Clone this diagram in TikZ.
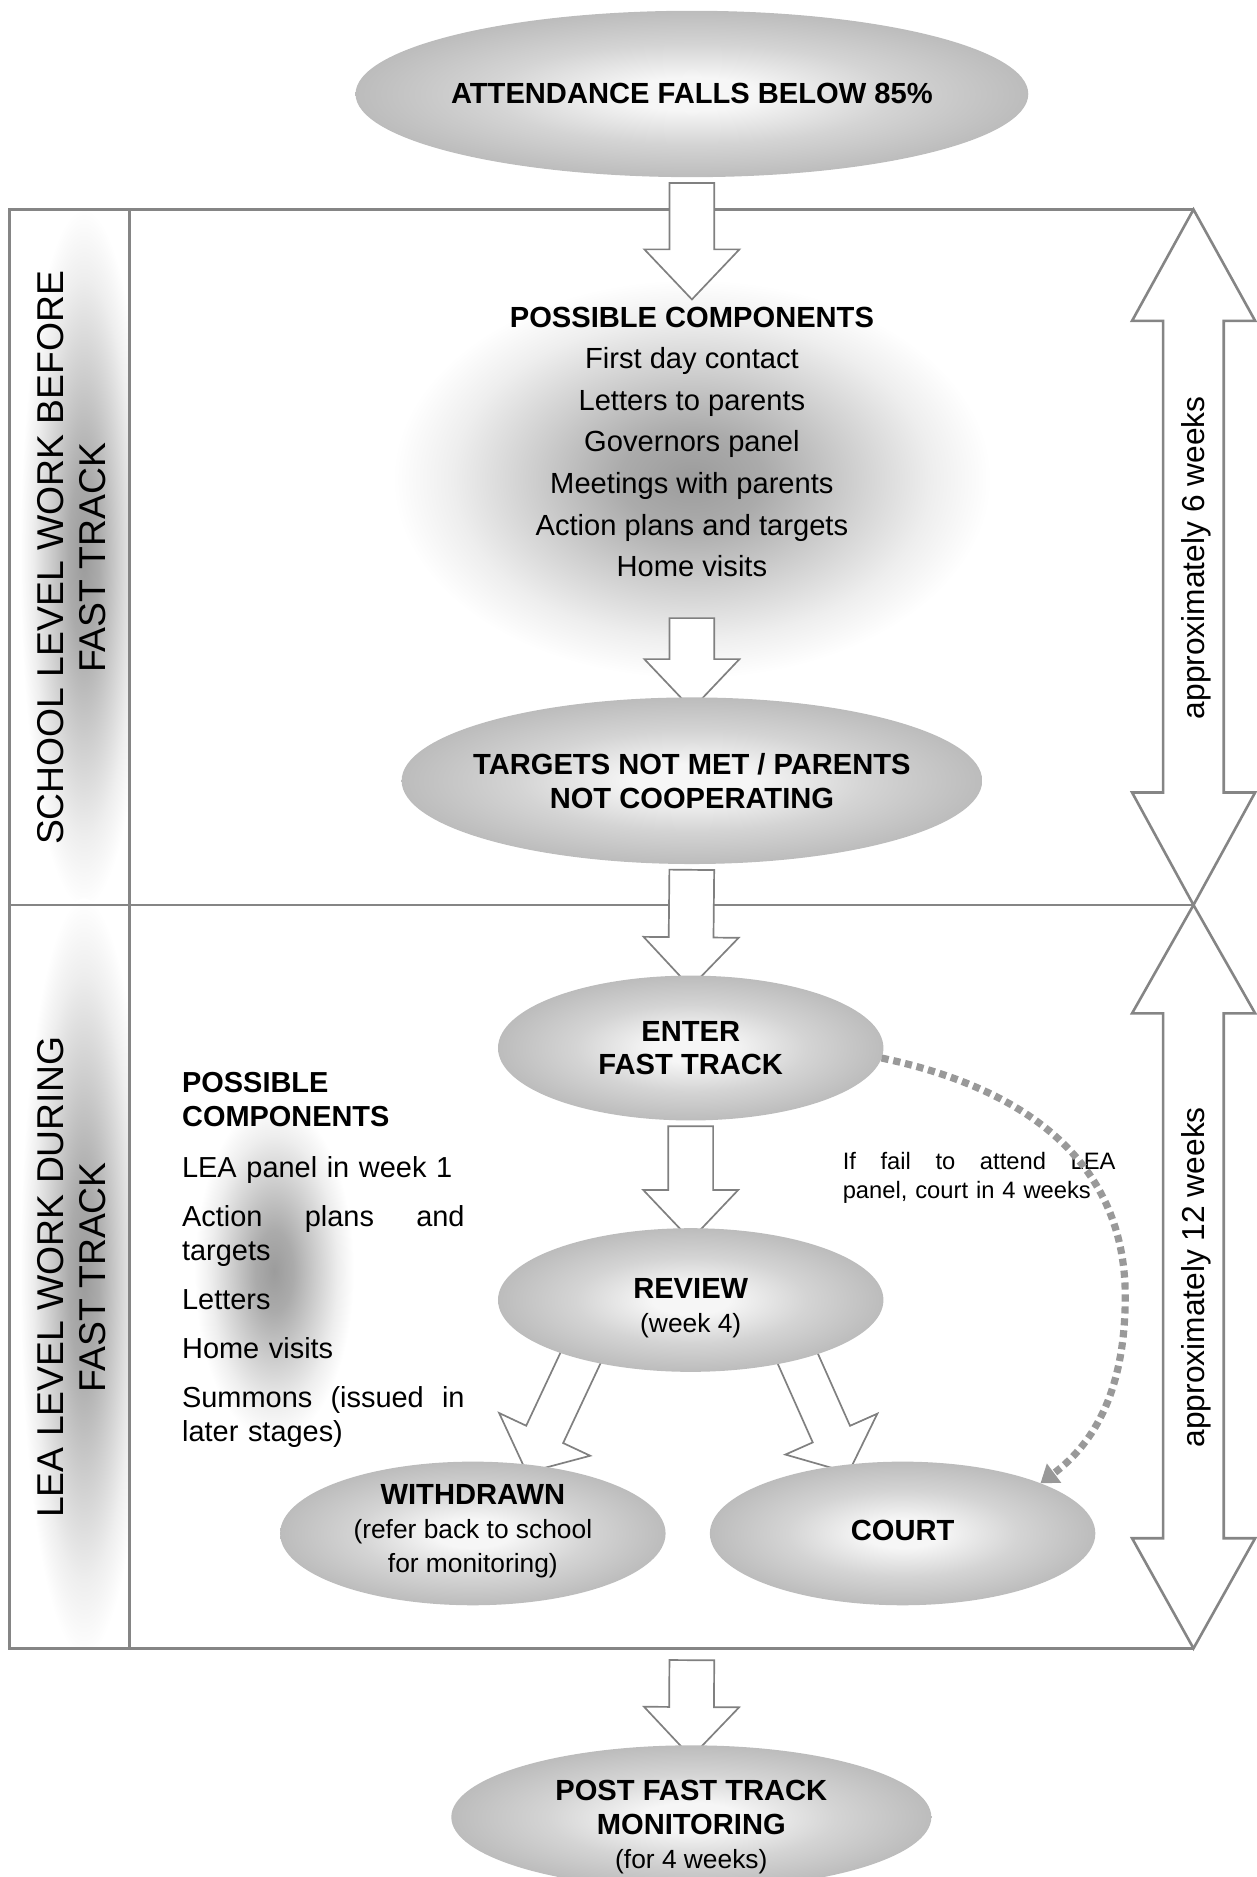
\documentclass[tikz,border=0pt]{standalone}
\usepackage{fontspec}
\setmainfont{Liberation Sans}
\usetikzlibrary{shapes.geometric,shapes.arrows,calc,arrows.meta}
\definecolor{linegray}{HTML}{858585}
\definecolor{arrgray}{HTML}{808080}
\definecolor{dotgray}{HTML}{999999}
\definecolor{ellA}{HTML}{F6F6F6}
\definecolor{ellB}{HTML}{D4D4D4}
\definecolor{ellC}{HTML}{BCBCBC}
\definecolor{blA}{HTML}{9C9C9C}
\definecolor{blB}{HTML}{ABABAB}
\definecolor{blC}{HTML}{CDCDCD}
\definecolor{blD}{HTML}{EEEEEE}
% TikZ maps the central 50bp square of a shading onto the path: the edge is at 25bp
\pgfdeclareradialshading{ellshade}{\pgfpoint{0bp}{0bp}}{color(0bp)=(ellA); color(5bp)=(ellA); color(15bp)=(ellB); color(25bp)=(ellC); color(50bp)=(ellC)}
\pgfdeclareradialshading{blobshade}{\pgfpoint{0bp}{0bp}}{color(0bp)=(blA); color(6bp)=(blB); color(13bp)=(blC); color(20bp)=(blD); color(25bp)=(white); color(50bp)=(white)}
\pgfdeclarelayer{bg}
\pgfdeclarelayer{mid}
\pgfsetlayers{bg,mid,main}
\newcommand\fntBold{\fontsize{14.6}{17.1}\selectfont\bfseries}
\newcommand\fntReg{\fontsize{14.6}{20.85}\selectfont}
\newcommand\fntSmall{\fontsize{13.2}{13.8}\selectfont\mdseries}
\newcommand\fntLea{\fontsize{14.5}{17.1}\selectfont}
\newcommand\fntFail{\fontsize{11.9}{14.4}\selectfont}
\newcommand\fntSide{\fontsize{18.7}{21}\selectfont}
\newcommand\fntWeeks{\fontsize{15.9}{18}\selectfont}
\newcommand\justline[2]{\leavevmode\hbox to #1{#2}}
\begin{document}
\begin{tikzpicture}[x=0.6pt,y=-0.6pt,
  ell/.style={ellipse, inner sep=0pt, outer sep=0pt, shade, shading=ellshade},
  lbl/.style={align=center, inner sep=0pt, font=\fntBold},
  vbar/.style={single arrow, draw=arrgray, fill=white, line width=0.85pt, inner xsep=0pt, inner ysep=10.8pt, outer sep=0pt, single arrow head extend=12.6pt, single arrow tip angle=87, single arrow head indent=0pt},
  dbar/.style={vbar, inner ysep=9.8pt, single arrow head extend=15pt, single arrow tip angle=100},
  blockto/.style={to path={let \p1=(\tikztostart), \p2=(\tikztotarget), \n1={atan2(\y2-\y1,\x2-\x1)}, \n2={veclen(\x2-\x1,\y2-\y1)} in node[#1, rotate=\n1, minimum height=\n2] at ($(\p1)!0.5!(\p2)$) {}}},
  blockto/.default=vbar,
  frameln/.style={draw=linegray, line width=1.4pt},
  dblarrow/.style={draw=linegray, line width=1.3pt, line join=miter, fill=white},
  dotconn/.style={draw=dotgray, line width=3.6pt, dash pattern=on 3.6pt off 2.4pt, -{Triangle[length=8.5pt,width=11.5pt]}},
]
\useasboundingbox (0,0) rectangle (1050,1568);

% ---------- background layer: shadings and frame ----------
\begin{pgfonlayer}{bg}
  \shade[shading=blobshade] (578,400) ellipse [x radius=150pt, y radius=100pt];
  \shade[shading=blobshade] (229,1062) ellipse [x radius=40pt, y radius=85pt];
  \begin{scope}
    \clip (8,175) rectangle (108,1377);
    \shade[shading=blobshade] (70,466) ellipse [x radius=32pt, y radius=175pt];
    \shade[shading=blobshade] (70,1067) ellipse [x radius=32pt, y radius=190pt];
  \end{scope}
  \draw[frameln] (997,175) -- (8,175) -- (8,1377) -- (997,1377);
  \draw[frameln] (8,756) -- (997,756);
  \draw[frameln] (108,175) -- (108,1377);
  % duration double arrows
  \draw[dblarrow] (997,175) -- (1048.5,268) -- (1022.3,268) -- (1022.3,662) -- (1048.5,662) -- (997,756)
     -- (945.7,662) -- (971.6,662) -- (971.6,268) -- (945.7,268) -- cycle;
  \draw[dblarrow] (997,756) -- (1048.5,846.5) -- (1022.3,846.5) -- (1022.3,1285) -- (1048.5,1285) -- (997,1377)
     -- (945.7,1285) -- (971.6,1285) -- (971.6,846.5) -- (945.7,846.5) -- cycle;
\end{pgfonlayer}

% ---------- side labels ----------
\node[rotate=90, align=center, inner sep=0pt, font=\fntSide] (lblA) at (60,466) {SCHOOL LEVEL WORK BEFORE\\FAST TRACK};
\node[rotate=90, align=center, inner sep=0pt, font=\fntSide] (lblB) at (60,1067) {LEA LEVEL WORK DURING\\FAST TRACK};
\node[rotate=90, inner sep=0pt, font=\fntWeeks] (w6) at (999,466) {approximately 6 weeks};
\node[rotate=90, inner sep=0pt, font=\fntWeeks] (w12) at (999,1067) {approximately 12 weeks};

% ---------- ellipses ----------
\node[ell, minimum width=337.2pt, minimum height=83.4pt,
      label={[lbl]center:{ATTENDANCE FALLS BELOW 85\%}}] (top) at (578,78.5) {};
\node[ell, minimum width=291pt, minimum height=83.5pt,
      label={[lbl]center:{TARGETS NOT MET / PARENTS\\NOT COOPERATING}}] (tgt) at (578,652.2) {};
\node[ell, minimum width=193.2pt, minimum height=72.6pt,
      label={[lbl, font=\fontsize{14.6}{16.7}\selectfont\bfseries]center:{ENTER\\FAST TRACK}}] (enter) at (577,875.5) {};
\node[ell, minimum width=193.2pt, minimum height=72pt,
      label={[lbl, yshift=-4.2pt]center:{REVIEW\\{\fntSmall (week 4)}}}] (review) at (577,1086) {};
\node[ell, minimum width=193.2pt, minimum height=72pt,
      label={[lbl, yshift=1pt]center:{WITHDRAWN\\{\fntSmall (refer back to school}\\{\fntSmall for monitoring)}}}] (wd) at (395,1281) {};
\node[ell, minimum width=193.2pt, minimum height=72pt,
      label={[lbl, yshift=1.6pt]center:{COURT}}] (court) at (754,1281) {};
\node[ell, minimum width=240.6pt, minimum height=72pt,
      label={[lbl, yshift=-4.8pt]center:{POST FAST TRACK\\MONITORING\\{\fntSmall (for 4 weeks)}}}] (post) at (577.5,1518) {};

% ---------- text blocks ----------
\node[anchor=north, align=center, inner sep=0pt, font=\fntReg] (comp) at (578,256)
  {\textbf{POSSIBLE COMPONENTS}\\First day contact\\Letters to parents\\Governors panel\\Meetings with parents\\Action plans and targets\\Home visits};
\node[anchor=north west, align=left, text width=141.6pt, inner sep=0pt, font=\fntLea] (leatext) at (151.8,895.7)
  {\textbf{POSSIBLE}\\\textbf{COMPONENTS}\\[8pt]
   LEA panel in week 1\\[7.5pt]
   \justline{141.6pt}{Action\hfill plans\hfill and}\\targets\\[7.5pt]
   Letters\\[7.5pt]
   Home visits\\[7.5pt]
   \justline{141.6pt}{Summons\hfill (issued\hfill in}\\later stages)};
\node[anchor=north west, align=left, text width=136.7pt, inner sep=0pt, font=\fntFail] (failtext) at (703.7,962.5)
  {\justline{136.7pt}{If\hfill fail\hfill to\hfill attend\hfill LEA}\\panel, court in 4 weeks};

% ---------- connector coordinates ----------
\coordinate (comptop) at (578,240.3);
\coordinate (compbot) at (578,506.5);
\coordinate (frbot) at (578,1377);
\coordinate (dotmid) at (940,1083);

% ---------- block arrow connectors ----------
\begin{pgfonlayer}{mid}
  \path ($(top.south)+(0,-5)$) to[blockto] (comptop);
  \path (compbot) to[blockto] (tgt.north);
  \path ($(tgt.south)+(0,-5)$) to[blockto] (enter.north);
  \path ($(enter.south)+(0,-5)$) to[blockto] (review.north);
  \path ($(review.208)!-8pt!(wd.50)$) to[blockto=dbar] (wd.50);
  \path ($(review.331)!-8pt!(court.130)$) to[blockto=dbar] (court.130);
  \path (frbot) to[blockto] (post.north);
\end{pgfonlayer}

% ---------- dotted connector ----------
\draw[dotconn] (enter.357) .. controls (870,912) and (940,980) .. (dotmid)
   .. controls (940,1160) and (915,1205) .. (court.20);
\end{tikzpicture}
\end{document}
